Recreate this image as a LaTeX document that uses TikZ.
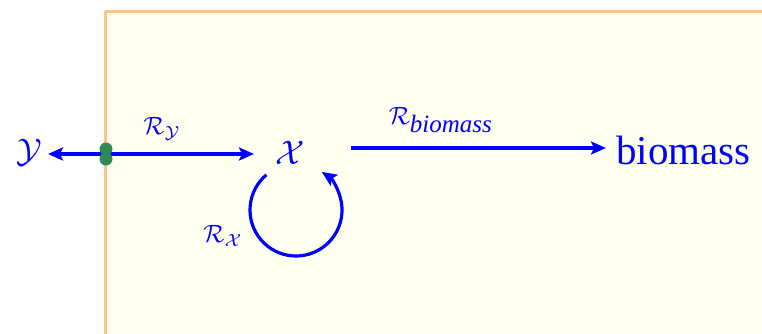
\documentclass[tikz,border=0pt]{standalone}
\usepackage{fontspec}
\setmainfont{Liberation Serif}
\usetikzlibrary{arrows.meta,calc}
\definecolor{boxline}{HTML}{FFC67F}
\definecolor{boxfill}{HTML}{FFFFF0}
\definecolor{dotgreen}{HTML}{2E8B57}
\definecolor{myblue}{HTML}{0000FF}
\newcommand{\bigvar}[1]{\scalebox{3.4}{$#1$}}
\newcommand{\biglab}[1]{\scalebox{2.5}{$#1$}}
\tikzset{
  flow/.style={draw=myblue, line width=3.2pt, -{Stealth[length=15pt,width=13pt,inset=3pt]}},
  var/.style={text=myblue, inner sep=0pt},
  lab/.style={text=myblue, inner sep=0pt},
}
\begin{document}
\begin{tikzpicture}[x=1pt,y=1pt]
\useasboundingbox (0,0) rectangle (762,-334);
\fill[boxfill] (105,-12) rectangle (770,-340);
\draw[boxline, line width=3pt, line join=round] (105,-340) -- (105,-12) -- (770,-12);
\node[var] (Y) at (29,-153) {\bigvar{\mathcal{Y}}};
\node[var] (X) at (290,-153) {\bigvar{\mathcal{X}}};
\node[text=myblue, font=\fontsize{41}{46}\selectfont, inner sep=0pt, anchor=west] (bio) at (616,-150) {biomass};
\coordinate (wall) at (106,-154);
\coordinate (ytip) at (48,-154);
\coordinate (xin) at (254,-154);
\coordinate (bstart) at (351,-148);
\coordinate (bend) at (606,-148);
\draw[flow] (wall) -- (ytip);
\draw[flow] (wall) -- (xin);
\draw[flow] (bstart) -- (bend);
\coordinate (cc) at (296,-210);
\draw[flow] ($(cc)+(130:46)$) arc[start angle=130, end angle=416, radius=46];
\fill[dotgreen] (106,-149) circle[radius=6.5];
\fill[dotgreen] (106,-159) circle[radius=6.5];
\node[lab] (RY) at (162,-129) {\biglab{\mathcal{R}_{\mathcal{Y}}}};
\node[lab] (RX) at (223,-236) {\biglab{\mathcal{R}_{\mathcal{X}}}};
\node[lab] (RB) at (441,-120) {\biglab{\mathcal{R}_{\textit{biomass}}}};
\end{tikzpicture}
\end{document}
